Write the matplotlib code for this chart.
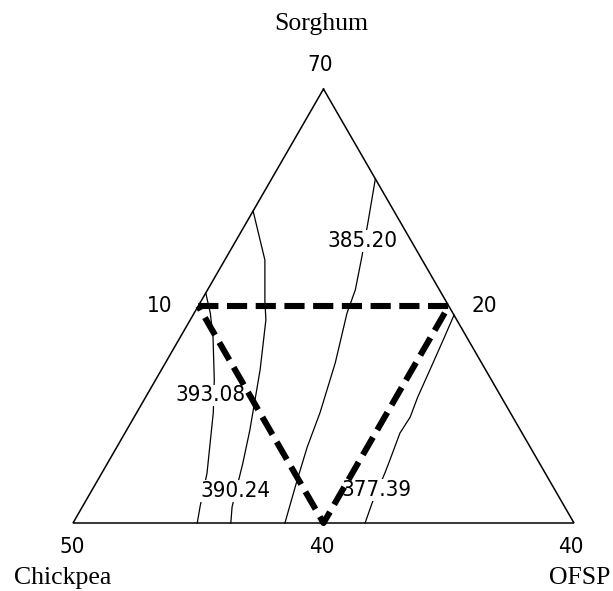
import numpy as np
import matplotlib
matplotlib.use("Agg")
import matplotlib.pyplot as plt

# Response contours of the mixture model, as pseudo-component fractions.
# Each point is (sorghum, ofsp); chickpea makes up the remainder.
levels = [393.08, 390.24, 385.20, 377.39]

sorghum_393_08 = [0.530, 0.484, 0.429, 0.330, 0.254, 0.115, 0.037, 0.000]
ofsp_393_08 = [0.000, 0.032, 0.065, 0.117, 0.153, 0.210, 0.235, 0.248]

sorghum_390_24 = [0.719, 0.606, 0.514, 0.468, 0.353, 0.214, 0.138, 0.037, 0.000]
ofsp_390_24 = [0.000, 0.080, 0.126, 0.151, 0.197, 0.246, 0.270, 0.299, 0.315]

sorghum_385_20 = [0.793, 0.691, 0.613, 0.537, 0.484, 0.369, 0.254, 0.175, 0.099, 0.000]
ofsp_385_20 = [0.207, 0.243, 0.270, 0.295, 0.305, 0.339, 0.366, 0.380, 0.398, 0.423]

sorghum_377_39 = [0.479, 0.422, 0.353, 0.290, 0.244, 0.207, 0.145, 0.115, 0.046, 0.000]
ofsp_377_39 = [0.521, 0.528, 0.536, 0.543, 0.551, 0.549, 0.560, 0.565, 0.574, 0.583]

# Where each contour value is written (sorghum, ofsp)
label_sorghum = [0.294, 0.074, 0.650, 0.076]
label_ofsp = [0.128, 0.288, 0.252, 0.567]

# Experimental region: sorghum, chickpea, ofsp at each corner
region_sorghum = [0.5, 0.5, 0.0]
region_chickpea = [0.5, 0.0, 0.5]
region_ofsp = [0.0, 0.5, 0.5]

# Component names and the values written at the corners / edges
component_names = ["Sorghum", "Chickpea", "OFSP"]
vertex_values = ["70", "50", "40"]
edge_values = ["10", "20", "40"]

contours = {
    393.08: (sorghum_393_08, ofsp_393_08),
    390.24: (sorghum_390_24, ofsp_390_24),
    385.20: (sorghum_385_20, ofsp_385_20),
    377.39: (sorghum_377_39, ofsp_377_39),
}

H = np.sqrt(3) / 2


def project(sorghum, ofsp):
    s = np.asarray(sorghum, dtype=float)
    o = np.asarray(ofsp, dtype=float)
    return o + s / 2, s * H


W, Hpx = 613, 591
fig = plt.figure(figsize=(W / 100, Hpx / 100), dpi=100)
fig.patch.set_facecolor("white")
ax = fig.add_axes([73 / W, 68 / Hpx, 501 / W, 434 / Hpx])
ax.set_xlim(0, 1)
ax.set_ylim(0, H)
ax.axis("off")

num_font = dict(family=["DejaVu Sans"], fontstretch="condensed", fontsize=16)
name_font = dict(family=["Liberation Serif"], fontsize=18.5)

# Triangle outline
tx, ty = project([1, 0, 0, 1], [0, 0, 1, 0])
ax.plot(tx, ty, color="black", lw=1.1, solid_joinstyle="miter", zorder=2,
        clip_on=False)

# Contour lines
for lev in levels:
    s, o = contours[lev]
    x, y = project(s, o)
    ax.plot(x, y, color="black", lw=0.9, zorder=1, clip_on=False)

# Contour value labels, knocking out the line underneath
for lev, s, o in zip(levels, label_sorghum, label_ofsp):
    x, y = project(s, o)
    ax.text(x, y, f"{lev:.2f}", ha="center", va="center", zorder=3,
            bbox=dict(facecolor="white", edgecolor="none", pad=0.4),
            **num_font)

# Experimental region (dashed)
rx, ry = project(region_sorghum + region_sorghum[:1], region_ofsp + region_ofsp[:1])
ax.plot(rx, ry, color="black", lw=4.4, linestyle=(0, (3.3, 1.4)),
        dash_capstyle="butt", zorder=4, clip_on=False)

# Corner values and component names
corners = [project(1, 0), project(0, 0), project(0, 1)]
value_offsets = [(-3, 24), (-1, -24), (-3, -24)]
name_offsets = [(-2, 65), (-10, -55), (6, -55)]
for (cx, cy), val, vo, name, no in zip(corners, vertex_values, value_offsets,
                                       component_names, name_offsets):
    ax.annotate(val, xy=(cx, cy), xytext=vo, textcoords="offset pixels",
                ha="center", va="center", annotation_clip=False, **num_font)
    ax.annotate(name, xy=(cx, cy), xytext=no, textcoords="offset pixels",
                ha="center", va="center", annotation_clip=False, **name_font)

# Edge values next to the region corners
edge_points = [project(region_sorghum[0], region_ofsp[0]),
               project(region_sorghum[1], region_ofsp[1]),
               project(region_sorghum[2], region_ofsp[2])]
edge_offsets = [(-39, 0), (36, 0), (-1.5, -24)]
for (ex, ey), val, eo in zip(edge_points, edge_values, edge_offsets):
    ax.annotate(val, xy=(ex, ey), xytext=eo, textcoords="offset pixels",
                ha="center", va="center", annotation_clip=False, **num_font)

fig.savefig("out.png", dpi=100, facecolor="white")
